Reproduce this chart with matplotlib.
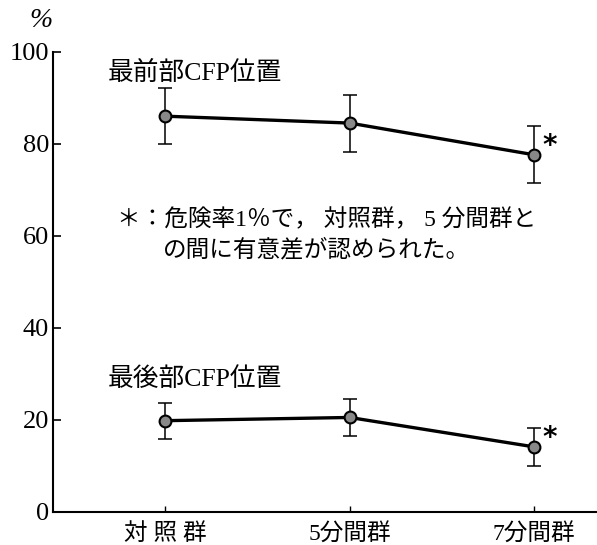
import matplotlib
matplotlib.use("Agg")
import matplotlib.pyplot as plt

plt.rcParams['font.family'] = ['Liberation Serif', 'Noto Sans CJK JP', 'DejaVu Sans']

groups = ["対 照 群", "5分間群", "7分間群"]
front_mean = [86.0, 84.5, 77.6]
front_err = [6.1, 6.2, 6.2]
back_mean = [19.8, 20.5, 14.1]
back_err = [3.9, 4.1, 4.1]
yticks = [0, 20, 40, 60, 80, 100]

x = list(range(len(groups)))

fig = plt.figure(figsize=(5.97, 5.45), dpi=100)
ax = fig.add_axes([0.089, 0.061, 0.911, 0.844])

for m, e in [(front_mean, front_err), (back_mean, back_err)]:
    ax.errorbar(x, m, yerr=e, fmt="none", ecolor="black", elinewidth=1.1,
                capsize=5, capthick=1.1, zorder=2)
    ax.plot(x, m, color="black", lw=2.4, marker="o", markersize=8.5,
            markerfacecolor="#888888", markeredgecolor="black",
            markeredgewidth=1.5, zorder=3)

# significance marks on 7分間群
for m in [front_mean[2], back_mean[2]]:
    ax.text(x[2] + 0.045, m + 2.0, "*", fontsize=20, fontfamily="DejaVu Sans",
            ha="left", va="center", fontweight="bold")

ax.set_xlim(-0.607, 2.34)
ax.set_ylim(0, 100)
ax.set_yticks(yticks)
ax.set_yticklabels([str(t) for t in yticks], fontsize=19)
ax.set_xticks(x)
ax.set_xticklabels(groups, fontsize=17)
ax.tick_params(axis="y", direction="in", length=6, width=1.2, pad=3)
ax.tick_params(axis="x", direction="in", length=4, width=1, pad=8)

for s in ["top", "right"]:
    ax.spines[s].set_visible(False)
ax.spines["left"].set_linewidth(1.5)
ax.spines["bottom"].set_linewidth(1.5)

fig.text(0.068, 0.985, "%", fontsize=20, style="italic", ha="center", va="top")

ax.text(-0.31, 95.5, "最前部CFP位置", fontsize=18.5, ha="left", va="center")
ax.text(-0.31, 28.8, "最後部CFP位置", fontsize=18.5, ha="left", va="center")
ax.text(-0.26, 63.5, "＊：危険率1％で， 対照群， 5 分間群と", fontsize=17,
        ha="left", va="center")
ax.text(-0.01, 57.0, "の間に有意差が認められた。", fontsize=17,
        ha="left", va="center")

fig.savefig("out.png", dpi=100)
